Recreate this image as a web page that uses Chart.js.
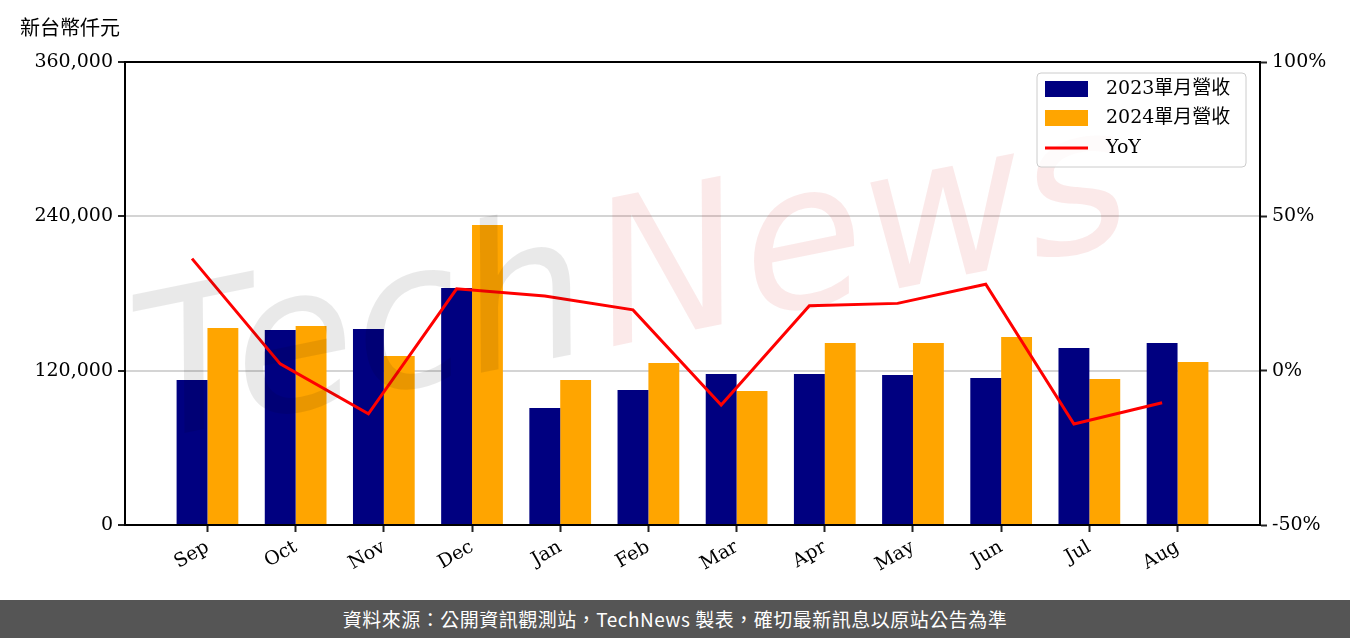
<!DOCTYPE html>
<html>
<head>
<meta charset="utf-8">
<script src="https://cdn.jsdelivr.net/npm/chart.js@4.4.1/dist/chart.umd.min.js"></script>
<style>
  html, body { margin: 0; padding: 0; background: #fff; }
  #wrap { width: 1350px; height: 600px; position: relative; }
  #footer {
    width: 1350px; height: 38px; background: #555555; color: #fff;
    font-family: "Noto Sans CJK TC", "Noto Sans", sans-serif; font-size: 19px;
    text-align: center; line-height: 38px; letter-spacing: 0.5px;
  }
</style>
</head>
<body>
<div id="wrap"><canvas id="revChart" width="1350" height="600"></canvas></div>
<div id="footer">資料來源：公開資訊觀測站，TechNews 製表，確切最新訊息以原站公告為準</div>
<script>
var months = ["Sep", "Oct", "Nov", "Dec", "Jan", "Feb", "Mar", "Apr", "May", "Jun", "Jul", "Aug"];
var rev2023 = [112700, 151600, 152400, 184300, 91000, 105000, 117400, 117400, 116600, 114300, 137600, 141500];
var rev2024 = [153200, 154700, 131400, 233300, 112700, 126000, 104200, 141500, 141500, 146200, 113500, 126700];
var yoy = [36.3, 2.2, -14.0, 26.5, 24.2, 19.7, -11.1, 21.0, 21.8, 28.0, -17.3, -10.4];
var leftTicks = [0, 120000, 240000, 360000];
var rightTicks = [-50, 0, 50, 100];
var unitLabel = "新台幣仟元";
var seriesNames = ["2023單月營收", "2024單月營收", "YoY"];

var serif = "'DejaVu Serif', 'Noto Sans CJK TC', serif";

// title, frame, legend and watermark
var extras = {
  id: "extras",
  afterDatasetsDraw: function (chart) {
    var c = chart.ctx;
    // watermark
    c.save();
    c.translate(150, 440);
    c.rotate(-0.2);
    c.font = "italic 200px 'DejaVu Sans'";
    c.textBaseline = "alphabetic";
    c.fillStyle = "rgba(0,0,0,0.085)";
    c.fillText("Tech", 0, 0);
    var w = c.measureText("Tech").width;
    c.fillStyle = "rgba(205,0,0,0.085)";
    c.fillText("News", w + 10, 0);
    c.restore();
  },
  afterDraw: function (chart) {
    var c = chart.ctx;
    var a = chart.chartArea;
    c.save();
    c.strokeStyle = "#000";
    c.lineWidth = 2;
    c.strokeRect(a.left, a.top, a.right - a.left, a.bottom - a.top);

    c.fillStyle = "#000";
    c.font = "20px 'Noto Sans CJK TC', sans-serif";
    c.textBaseline = "middle";
    c.textAlign = "left";
    c.fillText(unitLabel, 20, 27);

    // legend
    var lx = 1037, ly = 73, lw = 209, lh = 94;
    c.beginPath();
    c.roundRect(lx, ly, lw, lh, 4);
    c.fillStyle = "rgba(255,255,255,0.8)";
    c.fill();
    c.strokeStyle = "#cccccc";
    c.lineWidth = 1;
    c.stroke();
    var ds = chart.data.datasets;
    var rows = [89, 118, 148];
    c.font = "19px " + serif;
    for (var i = 0; i < ds.length; i++) {
      if (ds[i].type === "line") {
        c.strokeStyle = ds[i].borderColor;
        c.lineWidth = 3;
        c.beginPath();
        c.moveTo(1045, rows[i]);
        c.lineTo(1088, rows[i]);
        c.stroke();
      } else {
        c.fillStyle = ds[i].backgroundColor;
        c.fillRect(1045, rows[i] - 8, 43, 16);
      }
      c.fillStyle = "#000";
      c.fillText(ds[i].label, 1106, rows[i]);
    }
    c.restore();
  }
};

var ctx = document.getElementById("revChart");

new Chart(ctx, {
  data: {
    datasets: [
      {
        type: "bar",
        label: seriesNames[0],
        data: rev2023.map((v, i) => ({ x: i, y: v })),
        backgroundColor: "#000080",
        yAxisID: "y",
        categoryPercentage: 0.7,
        barPercentage: 1.0,
        order: 2
      },
      {
        type: "bar",
        label: seriesNames[1],
        data: rev2024.map((v, i) => ({ x: i, y: v })),
        backgroundColor: "#FFA500",
        yAxisID: "y",
        categoryPercentage: 0.7,
        barPercentage: 1.0,
        order: 2
      },
      {
        type: "line",
        label: seriesNames[2],
        // line points sit on the 2023 bar centres
        data: yoy.map((v, i) => ({ x: i - 0.175, y: v })),
        borderColor: "#FF0000",
        borderWidth: 3,
        pointRadius: 0,
        tension: 0,
        yAxisID: "y1",
        order: 1
      }
    ]
  },
  options: {
    responsive: false,
    animation: false,
    layout: { padding: { top: 62, left: 0, right: 0, bottom: 0 } },
    plugins: { legend: { display: false }, tooltip: { enabled: false } },
    scales: {
      x: {
        type: "linear",
        offset: false,
        min: -0.935,
        max: 11.935,
        afterBuildTicks: function (scale) {
          scale.ticks = months.map((m, i) => ({ value: i }));
        },
        afterFit: function (scale) { scale.height = 75; },
        ticks: {
          autoSkip: false,
          maxRotation: 30,
          minRotation: 30,
          color: "#000",
          padding: 4,
          font: { family: serif, size: 19 },
          callback: function (v) { return months[v]; }
        },
        grid: { offset: false, drawOnChartArea: false, drawTicks: true, tickLength: 7, tickColor: "#222", tickWidth: 2 },
        border: { display: true, color: "#000", width: 2 }
      },
      y: {
        position: "left",
        min: 0,
        max: 360000,
        afterBuildTicks: function (scale) {
          scale.ticks = leftTicks.map((v) => ({ value: v }));
        },
        afterFit: function (scale) { scale.width = 125; },
        ticks: {
          color: "#000",
          padding: 5,
          font: { family: serif, size: 19 },
          callback: function (v) { return v.toLocaleString("en-US"); }
        },
        grid: {
          color: function (c) {
            return (c.tick && (c.tick.value === 0 || c.tick.value === 360000)) ? "rgba(0,0,0,0)" : "#d4d4d4";
          },
          lineWidth: 2,
          tickLength: 7,
          tickColor: "#222",
          tickWidth: 2
        },
        border: { display: true, color: "#000", width: 2 }
      },
      y1: {
        position: "right",
        min: -50,
        max: 100,
        afterBuildTicks: function (scale) {
          scale.ticks = rightTicks.map((v) => ({ value: v }));
        },
        afterFit: function (scale) { scale.width = 90; },
        ticks: {
          color: "#000",
          padding: 5,
          font: { family: serif, size: 19 },
          callback: function (v) { return v + "%"; }
        },
        grid: { drawOnChartArea: false, tickLength: 7, tickColor: "#222", tickWidth: 2 },
        border: { display: true, color: "#000", width: 2 }
      }
    }
  },
  plugins: [extras]
});
</script>
</body>
</html>
